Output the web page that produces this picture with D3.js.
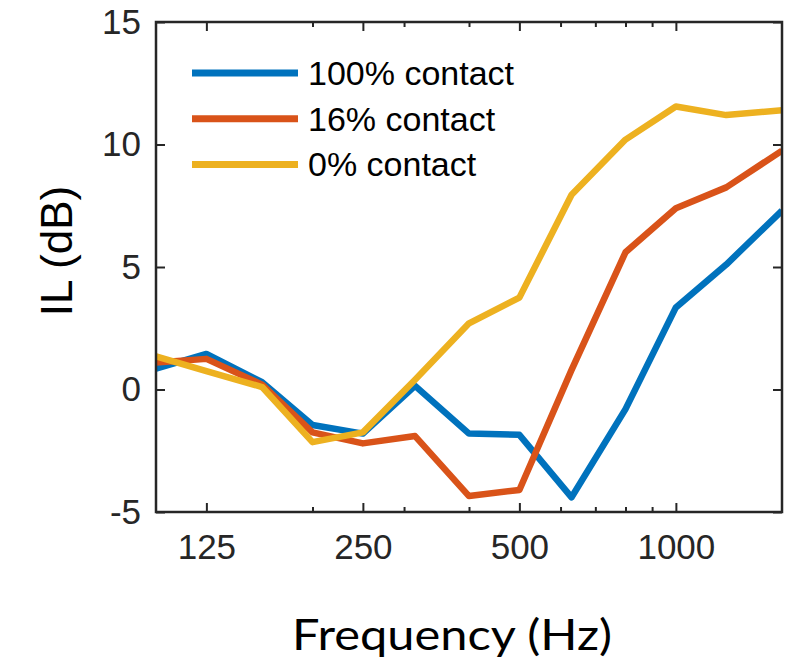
<!DOCTYPE html>
<html>
<head>
<meta charset="utf-8">
<script src="https://cdn.jsdelivr.net/npm/d3@7"></script>
<style>
  html, body { margin: 0; padding: 0; background: #fff; }
  svg { display: block; }
</style>
</head>
<body>
<svg id="chart" width="797" height="663"></svg>
<script>
// One-third-octave band centre frequencies (Hz)
const frequencies = [100, 125, 160, 200, 250, 315, 400, 500, 630, 800, 1000, 1250, 1600];

// Insertion loss (dB) for each contact condition
const il100 = [0.85, 1.45, 0.3, -1.45, -1.8, 0.15, -1.8, -1.85, -4.4, -0.8, 3.35, 5.1, 7.3];
const il16  = [1.1, 1.25, 0.2, -1.75, -2.2, -1.9, -4.35, -4.1, 0.8, 5.6, 7.4, 8.25, 9.75];
const il0   = [1.35, 0.75, 0.1, -2.15, -1.75, 0.4, 2.7, 3.75, 7.95, 10.2, 11.55, 11.2, 11.4];

const seriesNames = ["100% contact", "16% contact", "0% contact"];
const seriesColors = ["#0072BD", "#D95319", "#EDB120"];

// Axis ticks
const xMajorTicks = [125, 250, 500, 1000];
const xMinorTicks = [200, 300, 400, 600, 700, 800, 900];
const yTicks = [-5, 0, 5, 10, 15];

const series = [il100, il16, il0].map((vals, i) => ({
  name: seriesNames[i],
  color: seriesColors[i],
  points: frequencies.map((f, j) => ({ f, v: vals[j] }))
}));

const svg = d3.select("#chart");
const box = { left: 156, right: 782, top: 22, bottom: 512 };
const axisColor = "#262626";
const plainNumber = d => String(d);

const x = d3.scaleLog().domain([100, 1600]).range([box.left, box.right]);
const y = d3.scaleLinear().domain([-5, 15]).range([box.bottom, box.top]);

// Clip lines to the plot area
svg.append("defs").append("clipPath").attr("id", "plotClip")
  .append("rect")
  .attr("x", box.left).attr("y", box.top)
  .attr("width", box.right - box.left).attr("height", box.bottom - box.top);

// Data lines
const line = d3.line().x(d => x(d.f)).y(d => y(d.v));
svg.append("g").attr("clip-path", "url(#plotClip)")
  .selectAll("path").data(series).join("path")
  .attr("d", d => line(d.points))
  .attr("fill", "none")
  .attr("stroke", d => d.color)
  .attr("stroke-width", 6.5)
  .attr("stroke-linejoin", "round")
  .attr("stroke-linecap", "butt");

// Axes (ticks point inward, mirrored on top and right)
function styleAxis(g) {
  g.select(".domain").remove();
  g.selectAll(".tick line").attr("stroke", axisColor).attr("stroke-width", 2);
  g.selectAll(".tick text")
    .attr("fill", axisColor)
    .style("font-family", "'Liberation Sans', Arial, Helvetica, sans-serif")
    .style("font-size", "35px");
}

svg.append("g").attr("transform", `translate(0,${box.bottom})`)
  .call(d3.axisBottom(x).tickValues(xMajorTicks).tickFormat(plainNumber)
    .tickSizeInner(-9).tickSizeOuter(0).tickPadding(22))
  .call(styleAxis);
svg.append("g").attr("transform", `translate(0,${box.bottom})`)
  .call(d3.axisBottom(x).tickValues(xMinorTicks).tickFormat("")
    .tickSizeInner(-5).tickSizeOuter(0))
  .call(styleAxis);
svg.append("g").attr("transform", `translate(0,${box.top})`)
  .call(d3.axisTop(x).tickValues(xMajorTicks).tickFormat("")
    .tickSizeInner(-9).tickSizeOuter(0))
  .call(styleAxis);
svg.append("g").attr("transform", `translate(0,${box.top})`)
  .call(d3.axisTop(x).tickValues(xMinorTicks).tickFormat("")
    .tickSizeInner(-5).tickSizeOuter(0))
  .call(styleAxis);

svg.append("g").attr("transform", `translate(${box.left},0)`)
  .call(d3.axisLeft(y).tickValues(yTicks).tickFormat(plainNumber)
    .tickSizeInner(-9).tickSizeOuter(0).tickPadding(15))
  .call(styleAxis);
svg.append("g").attr("transform", `translate(${box.right},0)`)
  .call(d3.axisRight(y).tickValues(yTicks).tickFormat("")
    .tickSizeInner(-9).tickSizeOuter(0))
  .call(styleAxis);

// Axes box
svg.append("rect")
  .attr("x", box.left).attr("y", box.top)
  .attr("width", box.right - box.left).attr("height", box.bottom - box.top)
  .attr("fill", "none").attr("stroke", axisColor).attr("stroke-width", 2.5);

// Legend
const legend = svg.append("g").attr("transform", "translate(192,73)");
const rows = legend.selectAll("g").data(series).join("g")
  .attr("transform", (d, i) => `translate(0,${i * 45.7})`);
rows.append("line")
  .attr("x1", 0).attr("x2", 106).attr("y1", 0).attr("y2", 0)
  .attr("stroke", d => d.color).attr("stroke-width", 7);
rows.append("text")
  .attr("x", 116).attr("y", 12)
  .attr("fill", "#000")
  .style("font-family", "'Liberation Sans', Arial, Helvetica, sans-serif")
  .style("font-size", "34px")
  .text(d => d.name);

// Axis titles
svg.append("text")
  .attr("x", 452).attr("y", 650)
  .attr("text-anchor", "middle")
  .attr("textLength", 320).attr("lengthAdjust", "spacingAndGlyphs")
  .style("font-family", "Lato, 'Open Sans', sans-serif")
  .style("font-size", "42px")
  .attr("fill", "#000")
  .text("Frequency (Hz)");

svg.append("text")
  .attr("transform", "translate(72,251) rotate(-90)")
  .attr("text-anchor", "middle")
  .style("font-family", "'Liberation Sans', Arial, sans-serif")
  .style("font-size", "44px")
  .attr("fill", "#000")
  .text("IL (dB)");
</script>
</body>
</html>
